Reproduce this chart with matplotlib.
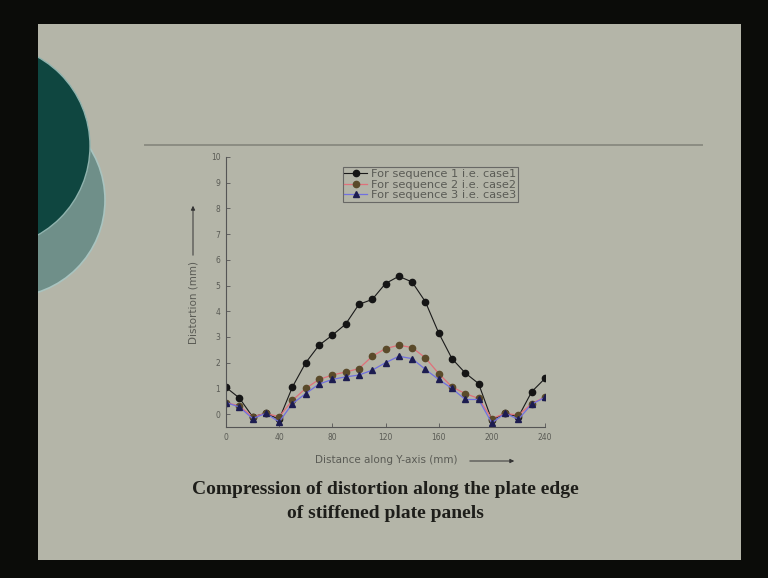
import matplotlib
matplotlib.use("Agg")
import matplotlib.pyplot as plt
from matplotlib.patches import Circle, Rectangle

# ---- data ----
x_mm = [0, 10, 20, 30, 40, 50, 60, 70, 80, 90, 100, 110, 120,
        130, 140, 150, 160, 170, 180, 190, 200, 210, 220, 230, 240]
case1 = [1.04, 0.63, -0.10, 0.03, -0.20, 1.06, 2.00, 2.68, 3.07, 3.50, 4.27, 4.46, 5.08,
         5.36, 5.14, 4.37, 3.16, 2.16, 1.60, 1.19, -0.23, 0.03, -0.10, 0.87, 1.39]
case2 = [0.45, 0.32, -0.10, 0.03, -0.10, 0.54, 1.00, 1.35, 1.52, 1.64, 1.77, 2.25, 2.55,
         2.68, 2.59, 2.19, 1.58, 1.06, 0.80, 0.61, -0.17, 0.03, -0.04, 0.41, 0.67]
case3 = [0.45, 0.28, -0.17, 0.03, -0.30, 0.41, 0.80, 1.17, 1.35, 1.45, 1.52, 1.71, 2.00,
         2.25, 2.16, 1.74, 1.35, 1.00, 0.57, 0.57, -0.34, 0.03, -0.20, 0.39, 0.65]
labels = ["For sequence 1 i.e. case1", "For sequence 2 i.e. case2", "For sequence 3 i.e. case3"]
xticks = [0, 40, 80, 120, 160, 200, 240]
yticks = [0, 1, 2, 3, 4, 5, 6, 7, 8, 9, 10]

W, H = 768, 578
fig = plt.figure(figsize=(W / 100, H / 100), dpi=100, facecolor="#0b0c09")

# background / slide layer in pixel coordinates
bg = fig.add_axes([0, 0, 1, 1], zorder=0)
bg.set_xlim(0, W)
bg.set_ylim(H, 0)
bg.axis("off")
slide_col = "#b4b5a8"
bg.add_patch(Rectangle((38, 24), 703, 536, facecolor=slide_col, edgecolor="none"))
bg.add_patch(Circle((8, 200), 97, facecolor="#6f8f89", edgecolor="#a9c4c0", lw=1.2))
bg.add_patch(Circle((-12, 146), 102, facecolor="#0f4640", edgecolor="#8fb3ae", lw=1.0))
bg.add_patch(Rectangle((0, 0), 38, H, facecolor="#0b0c09", edgecolor="none"))
bg.plot([145, 702], [145, 145], color="#8b8c82", lw=1.4)

# axis labels with arrows
txt_col = "#5a5b55"
bg.text(193, 302, "Distortion (mm)", rotation=90, ha="center", va="center",
        fontsize=7.5, color=txt_col)
bg.annotate("", xy=(193, 203), xytext=(193, 258),
            arrowprops=dict(arrowstyle="-|>", color="#333333", lw=0.7, mutation_scale=6))
bg.text(386, 460, "Distance along Y-axis (mm)", ha="center", va="center",
        fontsize=7.5, color=txt_col)
bg.annotate("", xy=(517, 461), xytext=(467, 461),
            arrowprops=dict(arrowstyle="-|>", color="#333333", lw=0.7, mutation_scale=6))

# caption
bg.text(385, 490, "Compression of distortion along the plate edge", ha="center", va="center",
        fontsize=14, fontweight="bold", family="Liberation Serif", color="#1e1e1a")
bg.text(385, 514, "of stiffened plate panels", ha="center", va="center",
        fontsize=14, fontweight="bold", family="Liberation Serif", color="#1e1e1a")

# chart axes
left, right, top, bottom = 226, 545, 157, 427
ax = fig.add_axes([left / W, (H - bottom) / H, (right - left) / W, (bottom - top) / H], zorder=2)
ax.patch.set_alpha(0)
ax.plot(x_mm, case1, color="#1a1a1a", lw=0.8, marker="o", ms=4.5, mfc="#151515", mec="#151515",
        label=labels[0])
ax.plot(x_mm, case2, color="#e0707a", lw=0.9, marker="o", ms=4.5, mfc="#5a4a2a", mec="#5a4a2a",
        label=labels[1])
ax.plot(x_mm, case3, color="#7070e0", lw=0.9, marker="^", ms=4.5, mfc="#1c1c50", mec="#1c1c50",
        label=labels[2])
ax.set_xlim(0, 240)
ax.set_ylim(-0.5, 10)
ax.set_xticks(xticks)
ax.set_yticks(yticks)
ax.tick_params(direction="in", length=3, width=0.6, labelsize=5.5, colors="#555555",
               labelcolor=txt_col, pad=4)
for s in ["top", "right"]:
    ax.spines[s].set_visible(False)
for s in ["left", "bottom"]:
    ax.spines[s].set_color("#555555")
    ax.spines[s].set_linewidth(0.8)

leg = ax.legend(loc="upper center", bbox_to_anchor=(0.64, 0.962), fontsize=8.2,
                frameon=True, fancybox=False, handlelength=2.0, borderpad=0.15,
                labelspacing=0.05, handletextpad=0.3, borderaxespad=0)
leg.get_frame().set_edgecolor("#555555")
leg.get_frame().set_linewidth(0.8)
leg.get_frame().set_facecolor(slide_col)
for t in leg.get_texts():
    t.set_color(txt_col)

fig.savefig("out.png", dpi=100, facecolor=fig.get_facecolor())
